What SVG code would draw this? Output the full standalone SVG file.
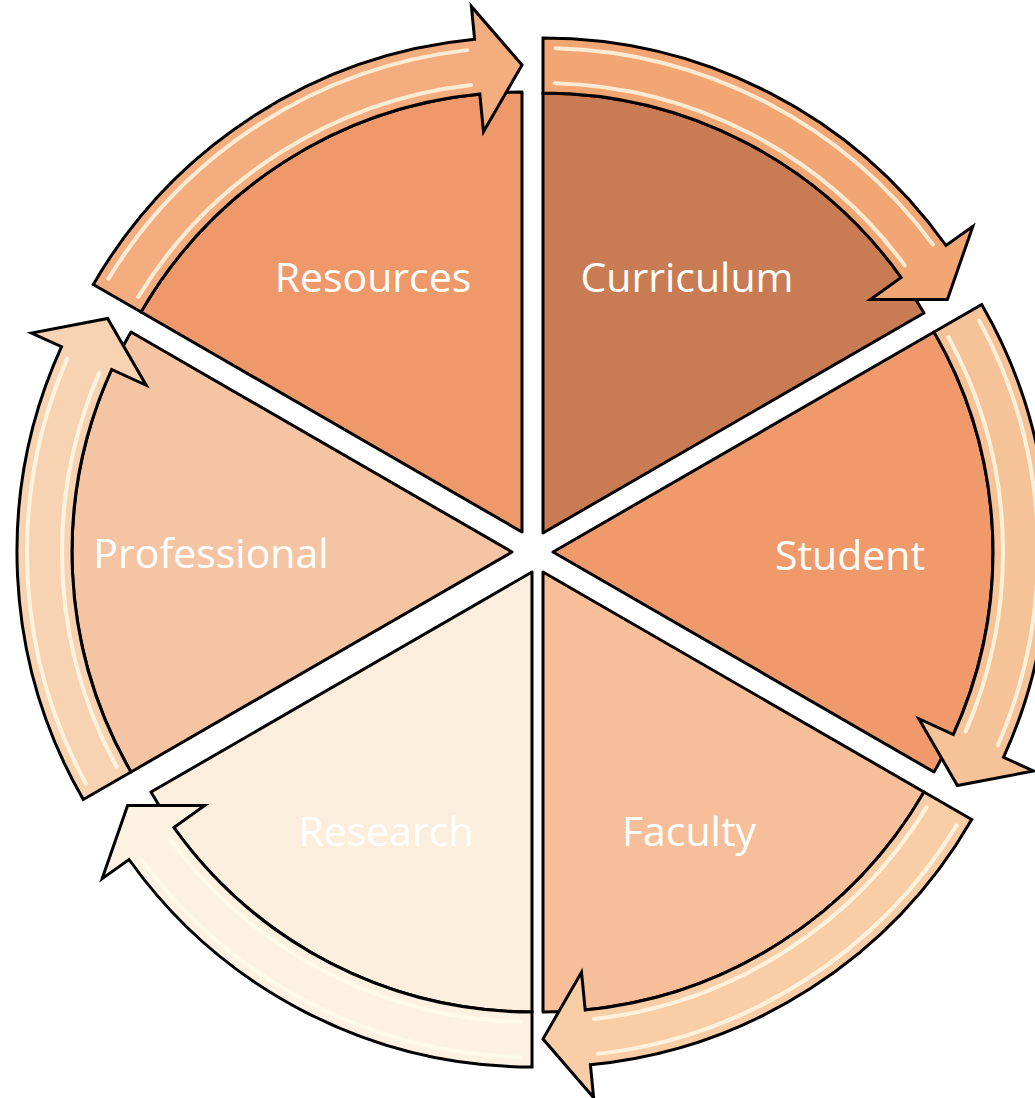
<svg xmlns="http://www.w3.org/2000/svg" width="1035" height="1098" viewBox="0 0 1035 1098">
<style>
.w{stroke:#000;stroke-width:3;stroke-linejoin:round}
.b{stroke:#000;stroke-width:3;stroke-linejoin:miter}
.hl{fill:none;stroke:#FFFBEA;stroke-opacity:0.8;stroke-width:4;stroke-dasharray:52 308;stroke-linecap:round}
.t{font-family:"Open Sans","Liberation Sans",sans-serif;font-size:41px;fill:#fff;text-anchor:middle}
</style>
<rect width="1035" height="1098" fill="#fff"/>
<g id="node-curriculum">
<path class="w" fill="#C97C53" d="M543,533 L543,93 A440,440 0 0 1 924,313 Z"/>
<text class="t" x="687" y="292">Curriculum</text>
</g>
<g id="node-student">
<path class="w" fill="#F09A6C" d="M553,552 L934,332 A440,440 0 0 1 934,772 Z"/>
<text class="t" x="850" y="570">Student</text>
</g>
<g id="node-faculty">
<path class="w" fill="#F6BF99" d="M543,572 L924,792 A440,440 0 0 1 543,1012 Z"/>
<text class="t" x="689" y="846">Faculty</text>
</g>
<g id="node-research">
<path class="w" fill="#FCEEDC" d="M532,572 L532,1012 A440,440 0 0 1 151,792 Z"/>
<text class="t" x="386" y="846">Research</text>
</g>
<g id="node-professional">
<path class="w" fill="#F5C5A3" d="M512,552 L131,772 A440,440 0 0 1 131,332 Z"/>
<text class="t" x="211" y="568">Professional</text>
</g>
<g id="node-resources">
<path class="w" fill="#EF996B" d="M522,532 L141,312 A440,440 0 0 1 522,92 Z"/>
<text class="t" x="373" y="292">Resources</text>
</g>
<g id="connectors">
<g id="arrow-curriculum-student">
<path class="b" fill="#F2A673" d="M543,93 L543,38 A495,495 0 0 1 946,245.5 L972.8,226.4 L947.4,299.5 L870.3,299.6 L901.2,277.5 A440,440 0 0 0 543,93 Z"/>
<circle class="hl" cx="543" cy="533" r="450" pathLength="360" stroke-dashoffset="-271.5"/>
<circle class="hl" cx="543" cy="533" r="485" pathLength="360" stroke-dashoffset="-271.5"/>
</g>
<g id="arrow-student-faculty">
<path class="b" fill="#F6C297" d="M934,332 L981.7,304.5 A495,495 0 0 1 1003.5,757.3 L1033.5,771 L957.4,785.5 L918.8,718.7 L953.4,734.5 A440,440 0 0 0 934,332 Z"/>
<circle class="hl" cx="553" cy="552" r="450" pathLength="360" stroke-dashoffset="-331.5"/>
<circle class="hl" cx="553" cy="552" r="485" pathLength="360" stroke-dashoffset="-331.5"/>
</g>
<g id="arrow-faculty-research">
<path class="b" fill="#F9CEA7" d="M924,792 L971.7,819.5 A495,495 0 0 1 590.4,1064.7 L593.6,1097.6 L543,1039 L581.5,972.2 L585.2,1010 A440,440 0 0 0 924,792 Z"/>
<circle class="hl" cx="543" cy="572" r="450" pathLength="360" stroke-dashoffset="-31.5"/>
<circle class="hl" cx="543" cy="572" r="485" pathLength="360" stroke-dashoffset="-31.5"/>
</g>
<g id="arrow-research-professional">
<path class="b" fill="#FDF2E2" d="M532,1012 L532,1067 A495,495 0 0 1 129,859.5 L102.2,878.6 L127.6,805.5 L204.7,805.4 L173.8,827.5 A440,440 0 0 0 532,1012 Z"/>
<circle class="hl" cx="532" cy="572" r="450" pathLength="360" stroke-dashoffset="-91.5"/>
<circle class="hl" cx="532" cy="572" r="485" pathLength="360" stroke-dashoffset="-91.5"/>
</g>
<g id="arrow-professional-resources">
<path class="b" fill="#F8D3B2" d="M131,772 L83.3,799.5 A495,495 0 0 1 61.55,346.7 L31.5,333 L107.6,318.5 L146.2,385.3 L111.6,369.5 A440,440 0 0 0 131,772 Z"/>
<circle class="hl" cx="512" cy="552" r="450" pathLength="360" stroke-dashoffset="-151.5"/>
<circle class="hl" cx="512" cy="552" r="485" pathLength="360" stroke-dashoffset="-151.5"/>
</g>
<g id="arrow-resources-curriculum">
<path class="b" fill="#F3AD7F" d="M141,312 L93.3,284.5 A495,495 0 0 1 474.6,39.3 L471.4,6.4 L522,65 L483.5,131.8 L479.8,94 A440,440 0 0 0 141,312 Z"/>
<circle class="hl" cx="522" cy="532" r="450" pathLength="360" stroke-dashoffset="-211.5"/>
<circle class="hl" cx="522" cy="532" r="485" pathLength="360" stroke-dashoffset="-211.5"/>
</g>
</g>
</svg>
